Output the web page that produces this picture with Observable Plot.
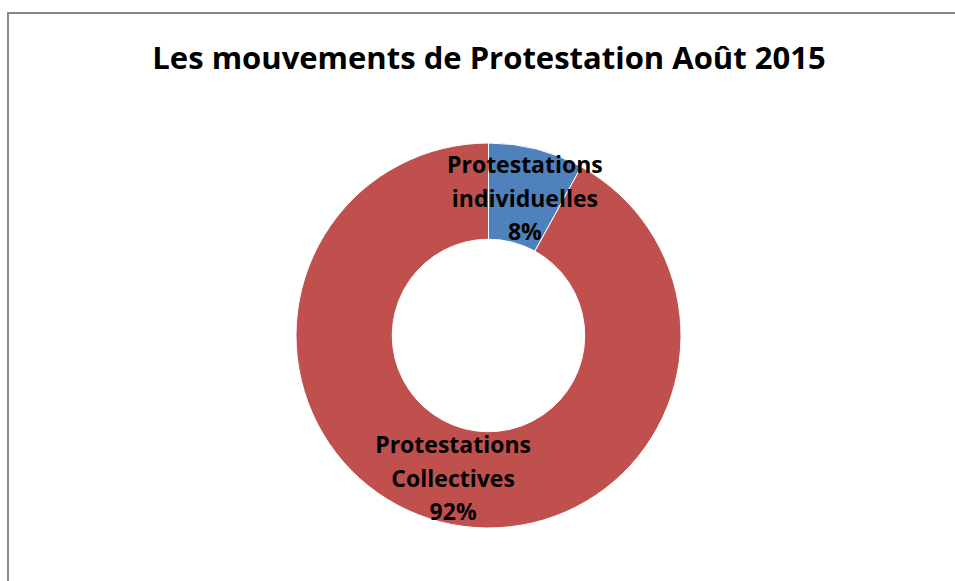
<!DOCTYPE html>
<html><head><meta charset="utf-8">
<script src="https://cdn.jsdelivr.net/npm/d3@7"></script>
<script src="https://cdn.jsdelivr.net/npm/@observablehq/plot@0.6"></script>
<style>
html,body{margin:0;padding:0;background:#fff;overflow:hidden;width:955px;height:581px}
#frame{position:absolute;left:7px;top:12px;width:980px;height:620px;border-left:2px solid #8c8c8c;border-top:2px solid #868686;box-sizing:border-box}
#chart{position:absolute;left:0;top:0}
#chart svg text{font-variant-ligatures:none}
</style></head><body>
<div id="frame"></div><div id="chart"></div>
<script>
const title = "Les mouvements de Protestation Août 2015";
const categories = ["Protestations individuelles", "Protestations Collectives"];
const labelLines = [["Protestations", "individuelles"], ["Protestations", "Collectives"]];
const shares = [8, 92];
const colors = ["#4F81BD", "#C0504D"];

const pie = d3.pie().sort(null).value(d => d.value);
const slices = pie(categories.map((name, i) => ({name, value: shares[i], lines: labelLines[i]})));
const unitArc = d3.arc().innerRadius(0.5).outerRadius(1);
const labels = slices.map(s => {
  const [cx, cy] = unitArc.centroid(s);
  return {x: cx, y: -cy, text: [...s.data.lines, s.data.value + "%"].join("\n")};
});

function donut(index, scales) {
  const cx = scales.x(0), cy = scales.y(0);
  const R = scales.x(1) - cx;
  const arc = d3.arc().innerRadius(R * 0.5).outerRadius(R);
  const color = scales.color || (n => colors[categories.indexOf(n)]);
  const g = d3.create("svg:g").attr("transform", `translate(${cx},${cy})`);
  g.selectAll("path").data(slices).join("path")
    .attr("d", d => arc(d))
    .attr("fill", d => color(d.data.name))
    .attr("stroke", "white")
    .attr("stroke-width", 1);
  return g.node();
}

const chart = Plot.plot({
  width: 955,
  height: 581,
  marginLeft: 296,
  marginRight: 274,
  marginTop: 143,
  marginBottom: 53,
  x: {domain: [-1, 1], axis: null},
  y: {domain: [-1, 1], axis: null},
  color: {domain: categories, range: colors},
  style: {fontFamily: "'Open Sans', sans-serif", background: "transparent", overflow: "visible"},
  marks: [
    Plot.dot(slices, {x: () => 0, y: () => 0, r: 0, fill: d => d.data.name}),
    donut,
    Plot.text(labels, {x: "x", y: "y", text: "text", lineHeight: 1.45, fontSize: 23, fontWeight: "bold", fill: "black"}),
    Plot.text([title], {frameAnchor: "top", lineAnchor: "middle", dy: -84, text: d => d, fontSize: 31, fontWeight: "bold", fill: "black"})
  ]
});
document.getElementById("chart").appendChild(chart);
</script>
</body></html>
